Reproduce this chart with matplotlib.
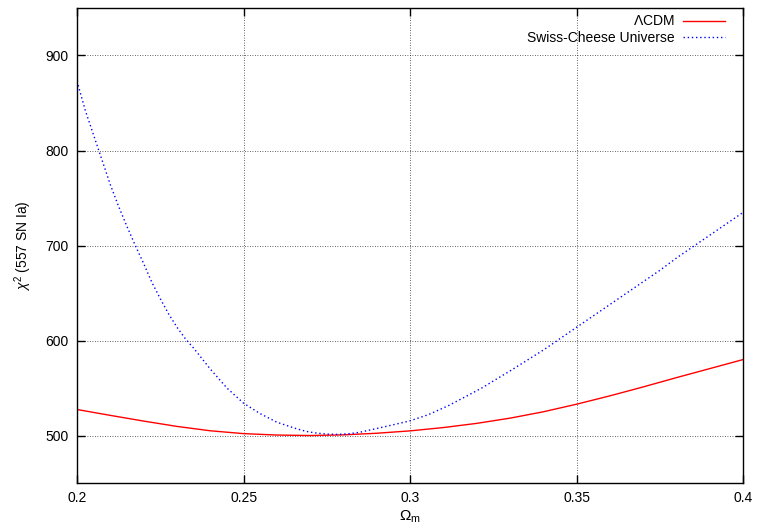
import matplotlib
matplotlib.use('Agg')
import matplotlib.pyplot as plt

plt.rcParams['font.family'] = ['Liberation Sans', 'DejaVu Sans']
plt.rcParams['mathtext.fontset'] = 'custom'
plt.rcParams['mathtext.rm'] = 'Liberation Sans'
plt.rcParams['mathtext.it'] = 'Liberation Sans:italic'

# LCDM chi^2 curve
om_lcdm = [0.20, 0.21, 0.22, 0.23, 0.24, 0.25, 0.26, 0.27, 0.28, 0.29,
           0.30, 0.31, 0.32, 0.33, 0.34, 0.35, 0.36, 0.37, 0.38, 0.39, 0.40]
chi2_lcdm = [527.4, 521.2, 515.2, 509.6, 505.0, 502.0, 500.5, 500.0, 500.7, 502.4,
             504.9, 508.4, 512.8, 518.3, 525.0, 533.0, 541.8, 551.2, 561.0, 570.5, 580.0]

# Swiss-Cheese chi^2 curve
om_sc = [0.200, 0.2025, 0.205, 0.2075, 0.210, 0.2125, 0.215, 0.2175, 0.220, 0.2225,
         0.225, 0.2275, 0.230, 0.2325, 0.235, 0.2375, 0.240, 0.2425, 0.245, 0.2475,
         0.250, 0.2525, 0.255, 0.2575, 0.260, 0.263, 0.266, 0.269, 0.272, 0.2755,
         0.2785, 0.282, 0.285, 0.2895, 0.2955, 0.300, 0.3055, 0.3115, 0.3175, 0.322,
         0.325, 0.330, 0.335, 0.340, 0.345, 0.350, 0.355, 0.360, 0.365, 0.370,
         0.375, 0.380, 0.385, 0.390, 0.395, 0.400]
chi2_sc = [873, 842, 816, 790, 764, 741, 720, 700, 681, 661,
           644, 628, 614, 602, 592, 581, 570, 560, 550, 542,
           534, 528.5, 523, 518.5, 514, 510.5, 507, 504.2, 502.5, 501.4,
           501.2, 502, 503.5, 507, 511.8, 515.5, 522, 531.5, 542.5, 551,
           557.5, 568, 579, 590, 602, 614, 626, 638, 650, 662,
           674, 687, 699, 711, 723, 735]

fig = plt.figure(figsize=(7.58, 5.29), dpi=100)
ax = fig.add_axes([0.1016, 0.0869, 0.8790, 0.8980])

ax.plot(om_lcdm, chi2_lcdm, color='#ff0000', lw=1.0, label=r'$\Lambda$CDM')
ax.plot(om_sc, chi2_sc, color='#0000ff', lw=1.0, linestyle=(0, (1, 2)),
        label='Swiss-Cheese Universe')

ax.set_xlim(0.2, 0.4)
ax.set_ylim(450, 950)
ax.set_xticks([0.2, 0.25, 0.3, 0.35, 0.4])
ax.set_xticklabels(['0.2', '0.25', '0.3', '0.35', '0.4'])
ax.set_yticks([500, 600, 700, 800, 900])

ax.grid(True, color='black', linestyle=(0, (1, 2)), lw=0.6, alpha=0.8)
ax.tick_params(direction='in', top=True, right=True, length=6, width=1,
               labelsize=10, pad=6)
for s in ax.spines.values():
    s.set_linewidth(1.0)

ax.set_xlabel(r'$\Omega_{\rm m}$', fontsize=11, labelpad=2)
ax.set_ylabel(r'$\chi^2$ (557 SN Ia)', fontsize=10, labelpad=8)

ax.legend(loc='upper right', bbox_to_anchor=(0.9805, 0.998), frameon=False,
          markerfirst=False, fontsize=10, handlelength=3.0,
          handletextpad=0.6, borderaxespad=0.0, labelspacing=0.15)

fig.savefig('out.png', dpi=100)
